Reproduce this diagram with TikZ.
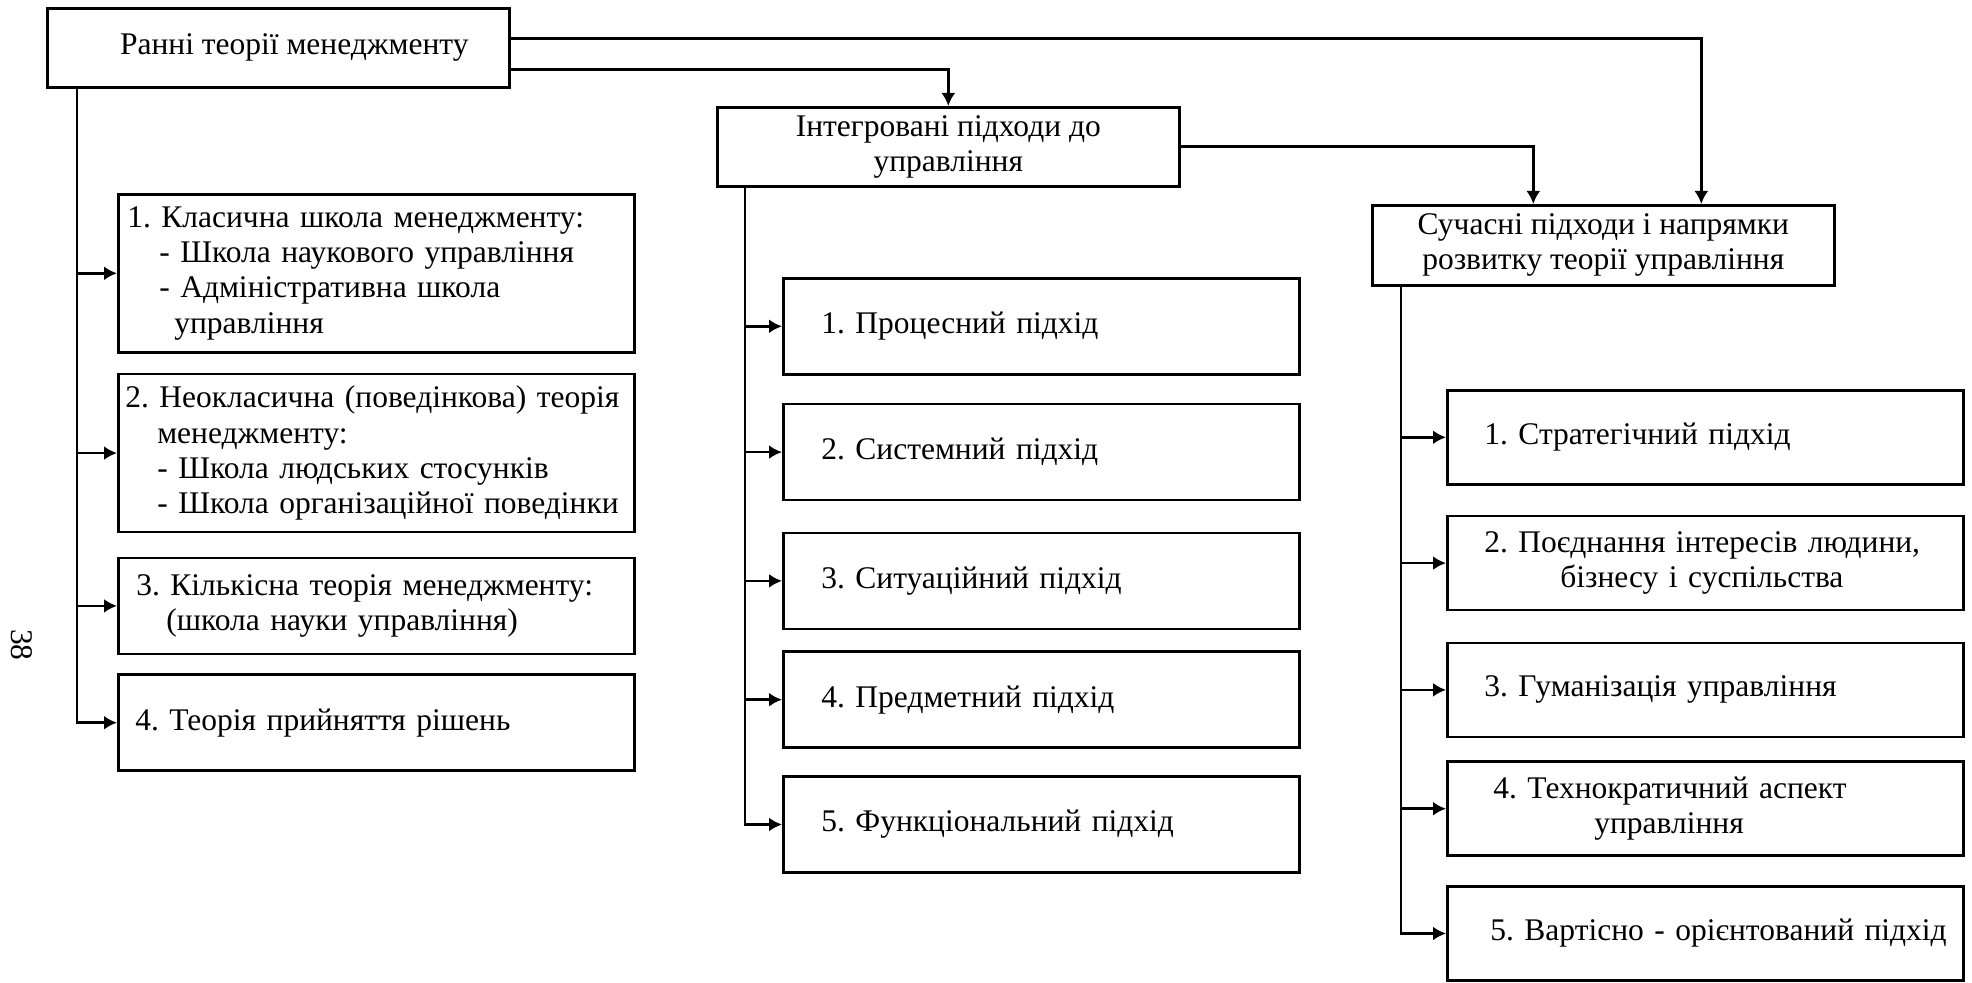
\documentclass[tikz,border=0pt]{standalone}
\usepackage{fontspec}
\setmainfont{Liberation Serif}
\frenchspacing
\usetikzlibrary{positioning,arrows.meta}

\begin{document}
\begin{tikzpicture}[x=0.5pt,y=-0.5pt,>={Latex[length=6.5pt,width=7pt]},line width=1.3pt,
    font=\fontsize{15.75}{17.6}\selectfont]
  \useasboundingbox (0,0) rectangle (1972,983);
  \tikzstyle{head}=[draw,minimum width=231pt,minimum height=39.5pt,
    align=center,anchor=north west,inner sep=2pt]
  \tikzstyle{lbox}=[draw,text width=251pt,inner xsep=3.5pt,minimum height=48pt,align=left]
  \tikzstyle{mbox}=[draw,text width=220pt,inner xsep=19pt,minimum height=48pt,align=left]
  \tikzstyle{rbox}=[draw,text width=249pt,inner xsep=4.5pt,minimum height=47pt,align=left]
  % top level
  \node[head] (early) at (46,7) {\hspace*{16pt}Ранні теорії менеджменту};
  \node[head] (integr) at (716,106) {Інтегровані підходи до\\управління};
  \node[head,minimum height=40pt] (modern) at (1371,204) {Сучасні підходи і напрямки\\розвитку теорії управління};
  % early theories
  \node[lbox,minimum height=79pt,anchor=north west] (l1) at (117,193)
    {\hspace*{1pt}1. Класична школа менеджменту:\\
     \hspace*{17pt}- Школа наукового управління\\
     \hspace*{17pt}- Адміністративна школа\\
     \hspace*{24.5pt}управління};
  \node[lbox,minimum height=79pt,below=9.6pt of l1] (l2)
    {2. Неокласична (поведінкова) теорія\\
     \hspace*{16pt}менеджменту:\\
     \hspace*{16pt}- Школа людських стосунків\\
     \hspace*{16pt}- Школа організаційної поведінки};
  \node[lbox,below=11.6pt of l2] (l3)
    {\hspace*{5.5pt}3. Кількісна теорія менеджменту:\\
     \hspace*{20.5pt}(школа науки управління)};
  \node[lbox,below=9.1pt of l3] (l4) {\hspace*{5pt}4. Теорія прийняття рішень};
  % integrated approaches
  \node[mbox,anchor=north west] (m1) at (782,277) {1. Процесний підхід};
  \node[mbox,below=13.6pt of m1] (m2) {2. Системний підхід};
  \node[mbox,below=15.1pt of m2] (m3) {3. Ситуаційний підхід};
  \node[mbox,below=10.1pt of m3] (m4) {4. Предметний підхід};
  \node[mbox,below=13.1pt of m4] (m5) {5. Функціональний підхід};
  % modern approaches
  \node[rbox,anchor=north west] (r1) at (1446,389) {\hspace*{14pt}1. Стратегічний підхід};
  \node[rbox,below=14.6pt of r1] (r2)
    {\hspace*{14pt}2. Поєднання інтересів людини,\\\hspace*{52pt}бізнесу і суспільства};
  \node[rbox,below=15.1pt of r2] (r3) {\hspace*{14pt}3. Гуманізація управління};
  \node[rbox,below=11.1pt of r3] (r4)
    {\hspace*{18.5pt}4. Технократичний аспект\\\hspace*{69pt}управління};
  \node[rbox,below=14.1pt of r4] (r5) {\hspace*{17pt}5. Вартісно - орієнтований підхід};
  % page number
  \node[rotate=-90] (page) at (22,645) {38};
  % links between the heads
  \draw[->] ([yshift=4.75pt]early.east) -| ([xshift=49pt]modern.north);
  \draw[->] ([yshift=-10.75pt]early.east) -| (integr.north);
  \draw[->] (integr.east) -| ([xshift=-35pt]modern.north);
  % spines
  \coordinate (ls) at ([xshift=15.5pt]early.south west);
  \coordinate (ms) at ([xshift=14.5pt]integr.south west);
  \coordinate (rs) at ([xshift=15pt]modern.south west);
  \foreach \n in {l1,l2,l3}
    \draw[->] (ls |- \n.west) -- (\n.west);
  \draw[->] (ls) |- (l4.west);
  \foreach \n in {m1,m2,m3,m4}
    \draw[->] (ms |- \n.west) -- (\n.west);
  \draw[->] (ms) |- (m5.west);
  \foreach \n in {r1,r2,r3,r4}
    \draw[->] (rs |- \n.west) -- (\n.west);
  \draw[->] (rs) |- (r5.west);
\end{tikzpicture}
\end{document}
